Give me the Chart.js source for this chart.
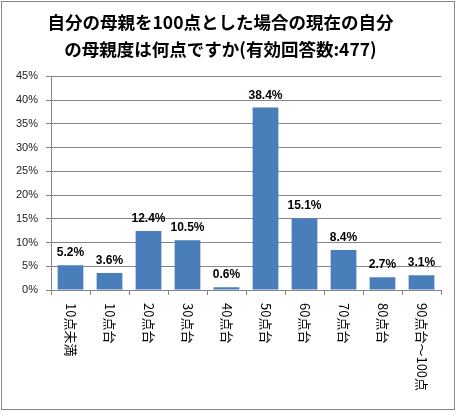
<!DOCTYPE html>
<html><head><meta charset="utf-8">
<script src="https://cdn.jsdelivr.net/npm/chart.js@4/dist/chart.umd.min.js"></script>
<style>html,body{margin:0;padding:0;background:#fff;}#wrap{width:457px;height:412px;position:relative;}</style>
</head><body><div id="wrap"><canvas id="c" width="457" height="412"></canvas></div>
<script>
const titleLines = ['自分の母親を100点とした場合の現在の自分', 'の母親度は何点ですか(有効回答数:477)'];
const categories = ['10点未満','10点台','20点台','30点台','40点台','50点台','60点台','70点台','80点台','90点台～100点'];
const values = [5.2, 3.6, 12.4, 10.5, 0.6, 38.4, 15.1, 8.4, 2.7, 3.1];
const yTicks = [0,5,10,15,20,25,30,35,40,45];

const extras = {
  id: 'extras',
  afterDraw(chart) {
    const ctx = chart.ctx;
    const x = chart.scales.x, y = chart.scales.y;
    ctx.save();
    ctx.strokeStyle = '#868686'; ctx.lineWidth = 1;
    ctx.strokeRect(1.5, 1.5, 453, 408);
    ctx.fillStyle = '#000';
    ctx.font = 'bold 12px "Liberation Sans", Arial, sans-serif';
    ctx.textAlign = 'center'; ctx.textBaseline = 'alphabetic';
    const meta = chart.getDatasetMeta(0);
    meta.data.forEach((bar, i) => {
      ctx.fillText(values[i].toFixed(1) + '%', bar.x, bar.y - 9);
    });
    ctx.font = '13px "Noto Sans CJK JP", sans-serif';
    ctx.textAlign = 'left'; ctx.textBaseline = 'middle';
    categories.forEach((c, i) => {
      const px = x.getPixelForValue(i);
      ctx.save();
      ctx.translate(px, y.bottom + 13);
      ctx.rotate(Math.PI / 2);
      ctx.fillText(c, 0, 0);
      ctx.restore();
    });
    ctx.restore();
  }
};

new Chart(document.getElementById('c'), {
  type: 'bar',
  data: {
    labels: categories,
    datasets: [{ data: values, backgroundColor: '#4A7EBB', barPercentage: 0.66, categoryPercentage: 1.0 }]
  },
  options: {
    responsive: false, animation: false,
    layout: { padding: { left: 0, right: 16, top: 0, bottom: 0 } },
    plugins: {
      legend: { display: false }, tooltip: { enabled: false },
      title: { display: true, text: titleLines, color: '#000',
        font: { family: '"Noto Sans CJK JP", sans-serif', size: 17.5, weight: 'bold', lineHeight: 1.55 },
        padding: { top: 9, bottom: 13 } }
    },
    scales: {
      x: {
        grid: { offset: true, drawOnChartArea: false, drawTicks: true, tickLength: 5, color: '#868686' },
        border: { display: true, color: '#868686' },
        ticks: { display: false },
        afterFit(s) { s.height = 122; }
      },
      y: {
        min: 0, max: 45,
        afterBuildTicks(s) { s.ticks = yTicks.map(v => ({ value: v })); },
        grid: { color: '#868686', tickLength: 5, drawTicks: true },
        border: { display: true, color: '#868686' },
        ticks: { padding: 8, color: '#222', font: { family: '"Liberation Sans", Arial, sans-serif', size: 11 },
          callback: v => v + '%' },
        afterFit(s) { s.width = 51; }
      }
    }
  },
  plugins: [extras]
});
</script></body></html>
